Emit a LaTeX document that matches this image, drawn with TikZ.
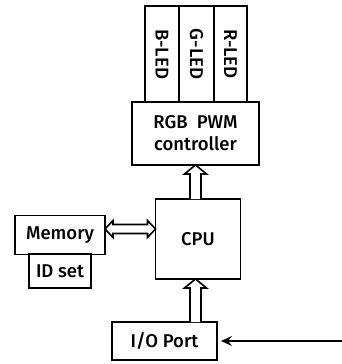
\documentclass[tikz,border=0pt]{standalone}
\usepackage{fontspec}
\setmainfont{Fira Sans}[UprightFont={* Medium}]
\usetikzlibrary{calc,arrows.meta}
\tikzset{
  blk/.style={draw, line width=1.6pt, inner sep=0pt, outer sep=0pt, font=\fontsize{18.5}{22}\selectfont, align=center},
  ledtxt/.style={rotate=-90, font=\fontsize{18.5}{22}\selectfont},
  barrow/.style={draw, fill=white, line width=1.6pt, line join=miter},
  inarrow/.style={line width=1.3pt, -{Stealth[length=11pt,width=10pt,inset=4pt]}},
}
\begin{document}
\begin{tikzpicture}[x=1pt,y=-1pt]
\useasboundingbox (0,0) rectangle (342,364);
% LED columns
\node[blk, minimum width=34pt, minimum height=96pt] (bled) at (162,54) {};
\node[blk, minimum width=35pt, minimum height=96pt] (gled) at (196.5,54) {};
\node[blk, minimum width=33pt, minimum height=96pt] (rled) at (230.5,54) {};
\node[ledtxt] (bt) at (bled) {B-LED};
\node[ledtxt] (gt) at (gled) {G-LED};
\node[ledtxt] (rt) at (rled) {R-LED};
% RGB controller
\node[blk, fill=white, minimum width=127pt, minimum height=63pt] (rgb) at (195.5,133.5) {RGB\ \ PWM\\controller};
% CPU
\node[blk, minimum width=85pt, minimum height=80pt] (cpu) at (198,239) {CPU};
% Memory and ID set
\node[blk, minimum width=90pt, minimum height=39pt] (mem) at (60,235) {Memory};
\node[blk, minimum width=62pt, minimum height=34pt] (ids) at (60,271) {ID set};
% I/O port
\node[blk, minimum width=105pt, minimum height=38pt] (io) at (164.5,341) {I/O Port};
\coordinate (ext) at (342,341);
% CPU -> RGB block arrow
\coordinate (a1) at ([xshift=-2.5pt]cpu.north);
\coordinate (b1) at (a1 |- rgb.south);
\draw[barrow] (a1) ++(-5.5,0) -- ($(b1)+(-5.5,9)$) -- ($(b1)+(-11,9)$) -- (b1) -- ($(b1)+(11,9)$) -- ($(b1)+(5.5,9)$) -- ($(a1)+(5.5,0)$);
% I/O -> CPU block arrow
\coordinate (b2) at ([xshift=-2.5pt]cpu.south);
\coordinate (a2) at (b2 |- io.north);
\draw[barrow] (a2) ++(-5.5,0) -- ($(b2)+(-5.5,9)$) -- ($(b2)+(-11,9)$) -- (b2) -- ($(b2)+(11,9)$) -- ($(b2)+(5.5,9)$) -- ($(a2)+(5.5,0)$);
% Memory <-> CPU block arrow
\coordinate (m1) at ([yshift=6pt]mem.east);
\coordinate (c1) at (m1 -| cpu.west);
\draw[barrow] (m1) -- ($(m1)+(8,-8.5)$) -- ($(m1)+(8,-4.5)$) -- ($(c1)+(-8,-4.5)$) -- ($(c1)+(-8,-8.5)$) -- (c1) -- ($(c1)+(-8,8.5)$) -- ($(c1)+(-8,4.5)$) -- ($(m1)+(8,4.5)$) -- ($(m1)+(8,8.5)$) -- cycle;
% input arrow
\draw[inarrow, shorten >=4pt] (ext) -- (io.east);
\end{tikzpicture}
\end{document}
